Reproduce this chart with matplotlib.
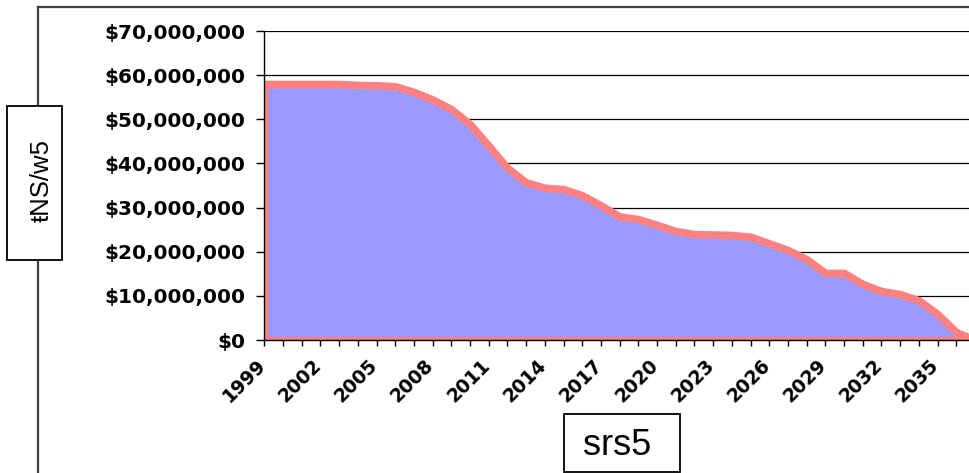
# -*- coding: utf-8 -*-

"""
Purpose:
    redraw of an old spreadsheet area chart
    balance per year, runs down to zero about 2037
"""

import matplotlib
matplotlib.use( "Agg" )
import matplotlib.pyplot as plt
import matplotlib.transforms as mtransforms
from   matplotlib.patches import Rectangle
from   matplotlib.lines   import Line2D
from   matplotlib.ticker  import FuncFormatter

# --------- data, millions of dollars
years       = list( range( 1999, 2038 ) )
balance_mm  = [ 58.0, 58.0, 58.0, 58.0, 58.0, 57.8, 57.7, 57.5, 56.2, 54.5,
                52.3, 48.9, 44.0, 39.0, 35.7, 34.5, 34.2, 32.8, 30.5, 28.0,
                27.4, 26.1, 24.7, 24.0, 23.9, 23.8, 23.4, 21.9, 20.4, 18.3,
                15.2, 15.2, 12.7, 11.1, 10.4,  9.0,  5.9,  1.8,  0.0 ]
y_ticks_mm  = [ 0, 10, 20, 30, 40, 50, 60, 70 ]
label_every = 3                 # only every third year gets a label
y_title     = "ŧNS/w5"
x_title     = "srs5"

# --------- look
FILL_COLOR  = "#9999ff"
EDGE_COLOR  = "#ff8080"
W_PX, H_PX  = 970, 473
DPI         = 100

def fx( px ):       # pixel from left  -> figure fraction
    return px / W_PX

def fy( px ):       # pixel from top   -> figure fraction
    return 1. - px / H_PX

balance     = [ v * 1e6 for v in balance_mm ]
y_ticks     = [ v * 1e6 for v in y_ticks_mm ]

fig         = plt.figure( figsize = ( W_PX / DPI, H_PX / DPI ), dpi = DPI )

# plot area: left axis at x 264, $0 at y 340, $70M at y 31, 2037 lands just off the right edge
ax_left     = 264.3
ax_right    = 974.9
ax_top      = 31.
ax_bottom   = 340.
ax  = fig.add_axes( [ fx( ax_left ), fy( ax_bottom ),
                      fx( ax_right ) - fx( ax_left ), fy( ax_top ) - fy( ax_bottom ) ] )

ax.fill_between( years, balance, 0, facecolor = FILL_COLOR, edgecolor = EDGE_COLOR,
                 linewidth = 5.4, joinstyle = "miter", zorder = 1 )

ax.set_xlim( years[0], years[-1] )
ax.set_ylim( y_ticks[0], y_ticks[-1] )

# ---- y axis
ax.set_yticks( y_ticks )
ax.yaxis.set_major_formatter( FuncFormatter( lambda v, pos: f"${v:,.0f}" ) )
ax.yaxis.grid( True, color = "black", linewidth = 0.9 )
ax.set_axisbelow( True )
ax.tick_params( axis = "y", direction = "out", length = 5.8, width = 1.0, pad = 8,
                labelsize = 14.4, colors = "black" )

# ---- x axis, a tick every year, label every third
x_labels    = [ str( yr ) if ix % label_every == 0 else "" for ix, yr in enumerate( years ) ]
ax.set_xticks( years )
ax.set_xticklabels( x_labels, rotation = 45, ha = "right", va = "top", rotation_mode = "anchor" )
ax.tick_params( axis = "x", direction = "out", length = 4.3, width = 1.0, pad = 7,
                labelsize = 13.5, colors = "black" )
shift       = mtransforms.ScaledTranslation( -8.5 / DPI, 0, fig.dpi_scale_trans )
for i_label in ax.get_xticklabels():
    i_label.set_transform( i_label.get_transform() + shift )

for i_label in ax.get_xticklabels() + ax.get_yticklabels():
    i_label.set_fontweight( "bold" )
    i_label.set_family( "DejaVu Sans" )

for side in [ "top", "right" ]:
    ax.spines[ side ].set_visible( False )
for side in [ "left", "bottom" ]:
    ax.spines[ side ].set_color( "black" )
    ax.spines[ side ].set_linewidth( 1.0 )

# ---- chart area border, only top and left show, rest is cut off
border_color = "#404040"
fig.add_artist( Line2D( [ fx( 37.7 ), fx( 37.7 ) ], [ fy( 7.3 ), 0. ],
                        transform = fig.transFigure, color = border_color, linewidth = 1.6 ) )
fig.add_artist( Line2D( [ fx( 37.7 ), 1. ], [ fy( 7.3 ), fy( 7.3 ) ],
                        transform = fig.transFigure, color = border_color, linewidth = 1.6 ) )

# ---- axis titles sit in boxes
fig.add_artist( Rectangle( ( fx( 7 ), fy( 260 ) ), fx( 62 ) - fx( 7 ), fy( 106 ) - fy( 260 ),
                           transform = fig.transFigure, facecolor = "white",
                           edgecolor = "black", linewidth = 1.3, zorder = 5 ) )
fig.text( fx( 42 ), fy( 181 ), y_title, rotation = 90, ha = "center", va = "center",
          fontsize = 18.5, family = "Liberation Sans", zorder = 6 )

fig.add_artist( Rectangle( ( fx( 564 ), fy( 472 ) ), fx( 680 ) - fx( 564 ), fy( 414 ) - fy( 472 ),
                           transform = fig.transFigure, facecolor = "white",
                           edgecolor = "black", linewidth = 1.3, zorder = 5 ) )
fig.text( fx( 617 ), fy( 445 ), x_title, ha = "center", va = "center",
          fontsize = 26, family = "Liberation Sans", zorder = 6 )

fig.savefig( "out.png", dpi = DPI )

# ===================== eof ====================================
